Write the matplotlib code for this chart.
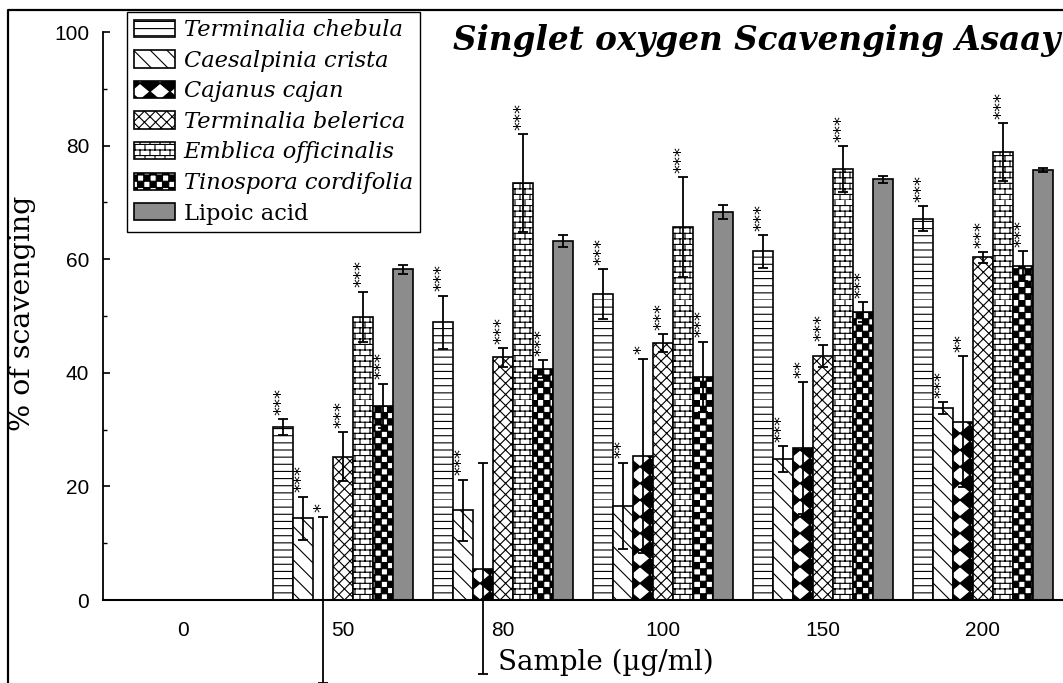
import warnings
warnings.filterwarnings('ignore')
import numpy as np
import matplotlib
matplotlib.use('Agg')
import matplotlib.pyplot as plt
import matplotlib.hatch as mhatch
from matplotlib.path import Path
from matplotlib.lines import Line2D
from matplotlib.ticker import MultipleLocator

# ---------------- data ----------------
categories = ['0', '50', '80', '100', '150', '200']
series_names = ['Terminalia chebula', 'Caesalpinia crista', 'Cajanus cajan',
                'Terminalia belerica', 'Emblica officinalis', 'Tinospora cordifolia',
                'Lipoic acid']

t_chebula = [0, 30.4, 48.9, 53.8, 61.4, 67.1]
t_chebula_err = [0, 1.4, 4.7, 4.4, 2.9, 2.2]
c_crista = [0, 14.4, 15.8, 16.6, 24.8, 33.8]
c_crista_err = [0, 3.8, 5.4, 7.6, 2.3, 1.0]
cajanus = [0, 0.0, 5.5, 25.4, 26.7, 31.4]
cajanus_err = [0, 14.7, 18.6, 17.1, 11.6, 11.5]
t_belerica = [0, 25.2, 42.7, 45.2, 43.0, 60.3]
t_belerica_err = [0, 4.3, 1.6, 1.6, 1.9, 1.0]
emblica = [0, 49.9, 73.4, 65.6, 75.9, 78.9]
emblica_err = [0, 4.4, 8.6, 8.8, 4.0, 5.1]
tinospora = [0, 34.2, 40.7, 39.3, 50.7, 58.8]
tinospora_err = [0, 3.9, 1.6, 6.2, 1.7, 2.7]
lipoic = [0, 58.2, 63.2, 68.3, 74.1, 75.7]
lipoic_err = [0, 0.8, 1.1, 1.2, 0.6, 0.3]

stars_chebula = ['', '***', '***', '***', '***', '***']
stars_crista = ['', '***', '***', '**', '***', '***']
stars_cajanus = ['', '*', '', '*', '**', '**']
stars_belerica = ['', '***', '***', '***', '***', '***']
stars_emblica = ['', '***', '***', '***', '***', '***']
stars_tinospora = ['', '***', '***', '***', '***', '***']
stars_lipoic = ['', '', '', '', '', '']

values = [t_chebula, c_crista, cajanus, t_belerica, emblica, tinospora, lipoic]
errors = [t_chebula_err, c_crista_err, cajanus_err, t_belerica_err,
          emblica_err, tinospora_err, lipoic_err]
stars = [stars_chebula, stars_crista, stars_cajanus, stars_belerica,
         stars_emblica, stars_tinospora, stars_lipoic]


# ---------------- custom hatch patterns ----------------
def _hlines(n):
    v, c = [], []
    for k in range(n):
        y = k / n
        v += [(0, y), (1, y)]
        c += [Path.MOVETO, Path.LINETO]
    return v, c


def _bricks(n_rows, n_cols):
    v, c = _hlines(n_rows)
    for k in range(n_rows):
        y0, y1 = k / n_rows, (k + 1) / n_rows
        off = 0.5 if k % 2 else 0.0
        for i in range(n_cols + 1):
            x = (i + off) / n_cols
            v += [(x, y0), (x, y1)]
            c += [Path.MOVETO, Path.LINETO]
    return v, c


def _checker(n):
    v, c = [], []
    for i in range(n):
        for j in range(n):
            if (i + j) % 2 == 0:
                x0, y0, x1, y1 = i / n, j / n, (i + 1) / n, (j + 1) / n
                v += [(x0, y0), (x1, y0), (x1, y1), (x0, y1), (x0, y0)]
                c += [Path.MOVETO, Path.LINETO, Path.LINETO, Path.LINETO, Path.CLOSEPOLY]
    return v, c


def _diamonds(nx, ny):
    v, c = [], []
    w, h = 1 / nx, 1 / ny
    for i in range(-1, nx + 1):
        for j in range(ny + 1):
            cx, cy = i * w + w / 2, j * h
            v += [(cx - w / 2, cy), (cx, cy - h / 2), (cx + w / 2, cy),
                  (cx, cy + h / 2), (cx - w / 2, cy)]
            c += [Path.MOVETO, Path.LINETO, Path.LINETO, Path.LINETO, Path.CLOSEPOLY]
    return v, c


class CustomHatch(mhatch.HatchPatternBase):
    builders = {
        'H': lambda: _hlines(14),
        'B': lambda: _bricks(18, 10),
        'C': lambda: _checker(16),
        'D': lambda: _diamonds(5, 6),
    }

    def __init__(self, hatch, density):
        verts, codes = [], []
        for ch, fn in self.builders.items():
            if ch in hatch:
                v, c = fn()
                verts += v
                codes += c
        self._v = np.array(verts, dtype=float).reshape(-1, 2)
        self._c = np.array(codes, dtype=Path.code_type)
        self.num_vertices = len(self._v)

    def set_vertices_and_codes(self, vertices, codes):
        vertices[:] = self._v
        codes[:] = self._c


mhatch._hatch_types.append(CustomHatch)

# ---------------- styles ----------------
hatches = ['H', '\\\\', 'D', 'xxx', 'B', 'C', None]
faces = ['white', 'white', 'white', 'white', 'white', 'white', '#8c8c8c']

plt.rcParams['hatch.linewidth'] = 0.8
plt.rcParams['hatch.color'] = 'black'

W, H, DPI = 1063, 683, 100
fig = plt.figure(figsize=(W / DPI, H / DPI), dpi=DPI)
ax_left, ax_right, ax_bottom, ax_top = 103, 1063, 600, 32
ax = fig.add_axes([ax_left / W, 1 - ax_bottom / H, (ax_right - ax_left) / W,
                   (ax_bottom - ax_top) / H])

x = np.arange(len(categories))
bw = 0.125
n = len(values)
bars = []
for j in range(n):
    xs = x + (j - (n - 1) / 2) * bw
    b = ax.bar(xs, values[j], width=bw, color=faces[j], edgecolor='black',
               linewidth=1.2, hatch=hatches[j], label=series_names[j], zorder=2)
    bars.append(b)
    err = np.array(errors[j])
    m = err > 0
    ax.errorbar(xs[m], np.array(values[j])[m], yerr=err[m], fmt='none',
                ecolor='black', elinewidth=1.3, capsize=3.5, capthick=1.3,
                clip_on=False, zorder=3)
    for xi, v, e, s in zip(xs, values[j], errors[j], stars[j]):
        if s:
            ax.annotate(s, (xi, v + e), xytext=(-1, 3), textcoords='offset points',
                        rotation=90, ha='center', va='bottom', fontsize=13,
                        family='DejaVu Sans', annotation_clip=False)

ax.set_xlim(-0.5, 5.5)
ax.set_ylim(0, 100)
ax.spines['top'].set_visible(False)
ax.spines['right'].set_visible(False)
ax.spines['left'].set_linewidth(1.3)
ax.spines['bottom'].set_linewidth(1.5)
ax.set_xticks(x, categories)
ax.set_yticks(np.arange(0, 101, 20))
ax.yaxis.set_minor_locator(MultipleLocator(10))
ax.tick_params(axis='x', length=0, pad=15, labelsize=15)
ax.tick_params(axis='y', which='major', direction='in', length=5, width=1.2,
               pad=10, labelsize=15)
ax.tick_params(axis='y', which='minor', direction='in', length=3, width=1.0)
for lab in ax.get_xticklabels() + ax.get_yticklabels():
    lab.set_family('Liberation Sans')

# legend
leg = ax.legend(loc='upper left', bbox_to_anchor=(127 / W, 1 - 12 / H),
                bbox_transform=fig.transFigure, borderaxespad=0, frameon=True,
                fancybox=False, edgecolor='black', framealpha=1,
                handlelength=1.8, handleheight=0.8, handletextpad=0.4,
                labelspacing=0.38, borderpad=0.32,
                prop={'family': 'DejaVu Serif', 'size': 16.2})
leg.get_frame().set_linewidth(1.0)
for t in leg.get_texts()[:6]:
    t.set_fontstyle('italic')

# labels and title
fig.text(22 / W, 1 - 313 / H, '% of scavenging', rotation=90, ha='center',
         va='center', fontsize=20.5, family='DejaVu Serif')
fig.text(606 / W, 1 - 662 / H, 'Sample (µg/ml)', ha='center', va='center',
         fontsize=20, family='DejaVu Serif')
fig.text(1060 / W, 1 - 50 / H, 'Singlet oxygen Scavenging Asaay', ha='right',
         va='baseline', fontsize=23.5, fontweight='bold', fontstyle='italic',
         family='DejaVu Serif')

# figure frame (top and left edges visible)
fig.add_artist(Line2D([8 / W, 8 / W, 1.0], [0, 1 - 10 / H, 1 - 10 / H],
                      transform=fig.transFigure, color='black', lw=1.6))

fig.savefig('out.png', dpi=DPI)
